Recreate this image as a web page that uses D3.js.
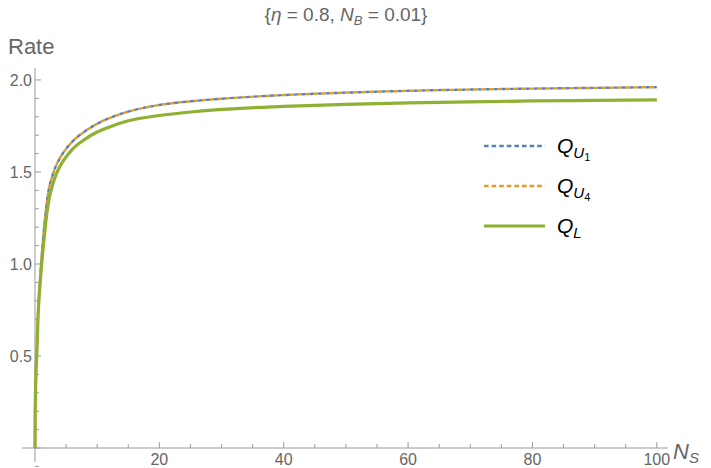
<!DOCTYPE html>
<html>
<head>
<meta charset="utf-8">
<script src="https://cdn.jsdelivr.net/npm/d3@7"></script>
<style>
  body { margin: 0; background: #fff; }
  text { font-family: "Liberation Sans", Arial, sans-serif; }
</style>
</head>
<body>
<div id="chart"></div>
<script>
"use strict";

// values
var ns = [0, 0.02, 0.05, 0.1, 0.2, 0.3, 0.5, 0.75, 1, 1.5, 2, 3, 4, 5, 6, 8, 10, 12, 15, 20, 25, 30, 40, 50, 60, 70, 80, 90, 100];
var qU1 = [0, 0.17, 0.25, 0.34, 0.46, 0.54, 0.74, 0.89, 1.01, 1.21, 1.36, 1.50, 1.575, 1.625, 1.665, 1.72, 1.762, 1.793, 1.828, 1.864, 1.884, 1.898, 1.918, 1.931, 1.941, 1.948, 1.953, 1.957, 1.961];
var qU4 = [0, 0.17, 0.25, 0.34, 0.46, 0.54, 0.74, 0.89, 1.01, 1.21, 1.36, 1.50, 1.575, 1.625, 1.665, 1.72, 1.762, 1.793, 1.828, 1.864, 1.884, 1.898, 1.918, 1.931, 1.941, 1.948, 1.953, 1.957, 1.961];
var qL = [0, 0.17, 0.25, 0.33, 0.45, 0.52, 0.72, 0.86, 0.97, 1.15, 1.30, 1.45, 1.53, 1.582, 1.623, 1.677, 1.717, 1.745, 1.778, 1.807, 1.826, 1.840, 1.856, 1.867, 1.875, 1.881, 1.886, 1.889, 1.892];

var xTicks = [20, 40, 60, 80, 100];
var yTicks = [0.5, 1.0, 1.5, 2.0];

var width = 711, height = 468;

var svg = d3.select("#chart").append("svg")
    .attr("width", width)
    .attr("height", height);

var x = d3.scaleLinear().domain([-2.09, 101.8]).range([22, 668]);
var y = d3.scaleLinear().domain([-0.076, 2.065]).range([462, 68]);

var axisColor = "#9a9a9a";
var labelColor = "#666666";

// axes lines
svg.append("line")
    .attr("x1", x(-2.09)).attr("x2", x(101.8))
    .attr("y1", y(0)).attr("y2", y(0))
    .attr("stroke", axisColor).attr("stroke-width", 1);
svg.append("line")
    .attr("x1", x(0)).attr("x2", x(0))
    .attr("y1", y(-0.076)).attr("y2", y(2.065))
    .attr("stroke", axisColor).attr("stroke-width", 1);

// x ticks (major + minor), drawn upward
var xMinor = d3.range(5, 101, 5);
svg.append("g").selectAll("line")
  .data(xMinor)
  .enter().append("line")
    .attr("x1", function(d) { return x(d); })
    .attr("x2", function(d) { return x(d); })
    .attr("y1", y(0))
    .attr("y2", function(d) { return y(0) - (d % 20 === 0 ? 6 : 4); })
    .attr("stroke", axisColor);

svg.append("g").selectAll("text")
  .data(xTicks)
  .enter().append("text")
    .attr("x", function(d) { return x(d); })
    .attr("y", 465)
    .attr("text-anchor", "middle")
    .attr("fill", labelColor)
    .style("font-size", "16px")
    .text(function(d) { return d; });

// y ticks, drawn to the right
var yMinor = d3.range(-1, 21).map(function(i) { return i / 10; });
svg.append("g").selectAll("line")
  .data(yMinor)
  .enter().append("line")
    .attr("x1", x(0))
    .attr("x2", function(d) { return x(0) + (Math.round(d * 10) % 5 === 0 ? 6 : 4); })
    .attr("y1", function(d) { return y(d); })
    .attr("y2", function(d) { return y(d); })
    .attr("stroke", axisColor);

svg.append("g").selectAll("text")
  .data(yTicks)
  .enter().append("text")
    .attr("x", x(0) - 3)
    .attr("y", function(d) { return y(d) + 6; })
    .attr("text-anchor", "end")
    .attr("fill", labelColor)
    .style("font-size", "16px")
    .text(function(d) { return d.toFixed(1); });

// axis labels
svg.append("text")
    .attr("x", 8).attr("y", 54)
    .attr("fill", labelColor)
    .style("font-size", "22px")
    .text("Rate");

var nsLab = svg.append("text")
    .attr("x", 673).attr("y", 459)
    .attr("fill", labelColor)
    .style("font-size", "22px");
nsLab.append("tspan").style("font-style", "italic").text("N");
nsLab.append("tspan").style("font-style", "italic").style("font-size", "15px").attr("dy", 4).text("S");

// title
var title = svg.append("text")
    .attr("x", 346).attr("y", 21)
    .attr("text-anchor", "middle")
    .attr("fill", labelColor)
    .style("font-size", "19px");
title.append("tspan").text("{");
title.append("tspan").style("font-style", "italic").text("\u03b7");
title.append("tspan").text(" = 0.8, ");
title.append("tspan").style("font-style", "italic").text("N");
title.append("tspan").style("font-style", "italic").style("font-size", "13px").attr("dy", 4).text("B");
title.append("tspan").attr("dy", -4).text(" = 0.01}");

// curves
var series = [
  { name: "U1", values: qU1, color: "#5E81B5", dash: "4,4", offset: 0, width: 2.4 },
  { name: "U4", values: qU4, color: "#E19C24", dash: "4,4", offset: 4, width: 2.4 },
  { name: "L", values: qL, color: "#8FB032", dash: null, offset: 0, width: 3.2 }
];

var line = d3.line()
    .x(function(d) { return x(d[0]); })
    .y(function(d) { return y(d[1]); })
    .curve(d3.curveMonotoneX);

series.forEach(function(s) {
  var pts = ns.map(function(v, i) { return [v, s.values[i]]; });
  svg.append("path")
      .attr("d", line(pts))
      .attr("fill", "none")
      .attr("stroke", s.color)
      .attr("stroke-width", s.width)
      .attr("stroke-dasharray", s.dash)
      .attr("stroke-dashoffset", s.offset);
});

// legend
var legendY = [146, 186, 226];
var subs = ["1", "4", null];
series.forEach(function(s, i) {
  svg.append("line")
      .attr("x1", 484).attr("x2", 545)
      .attr("y1", legendY[i]).attr("y2", legendY[i])
      .attr("stroke", s.color)
      .attr("stroke-width", s.dash ? 2.4 : 3.2)
      .attr("stroke-dasharray", s.dash ? "4.6,3" : null);
  var t = svg.append("text")
      .attr("x", 557).attr("y", legendY[i] + 7)
      .attr("fill", "#000")
      .style("font-size", "21px");
  t.append("tspan").style("font-style", "italic").text("Q");
  if (subs[i]) {
    t.append("tspan").style("font-style", "italic").style("font-size", "15px").attr("dy", 5).text("U");
    t.append("tspan").style("font-size", "11px").attr("dy", 3).text(subs[i]);
  } else {
    t.append("tspan").style("font-style", "italic").style("font-size", "15px").attr("dy", 5).text("L");
  }
});
</script>
</body>
</html>
